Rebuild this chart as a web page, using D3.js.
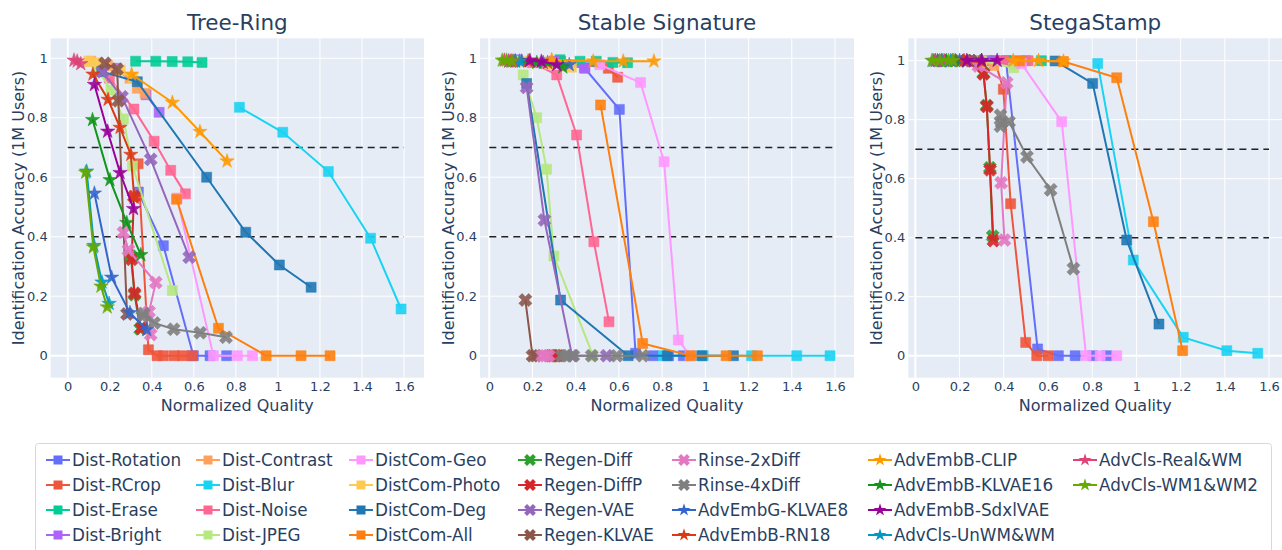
<!DOCTYPE html>
<html><head><meta charset="utf-8">
<script src="https://cdn.jsdelivr.net/npm/d3@7"></script>
<style>body{margin:0;background:#fff}svg{display:block}text{font-family:"DejaVu Sans",Verdana,sans-serif;fill:#2a3f5f}</style>
</head><body><svg id="c" width="1282" height="550"></svg>
<script>
// ---------- DATA ----------
const seriesNames = ["Dist-Rotation","Dist-RCrop","Dist-Erase","Dist-Bright","Dist-Contrast","Dist-Blur","Dist-Noise","Dist-JPEG",
  "DistCom-Geo","DistCom-Photo","DistCom-Deg","DistCom-All","Regen-Diff","Regen-DiffP","Regen-VAE","Regen-KLVAE",
  "Rinse-2xDiff","Rinse-4xDiff","AdvEmbG-KLVAE8","AdvEmbB-RN18","AdvEmbB-CLIP","AdvEmbB-KLVAE16","AdvEmbB-SdxlVAE",
  "AdvCls-UnWM&WM","AdvCls-Real&WM","AdvCls-WM1&WM2"];
const panelTitles = ["Tree-Ring","Stable Signature","StegaStamp"];
const xTicks = [0,0.2,0.4,0.6,0.8,1,1.2,1.4,1.6];
const yTicks = [0,0.2,0.4,0.6,0.8,1];
const thresholds = [0.7,0.4];

// points per series, same order as seriesNames: [normalized quality, identification accuracy]
const treeRing = [
 [[0.336,0.55],[0.455,0.37],[0.598,0],[0.677,0],[0.756,0]],
 [[0.335,0.645],[0.384,0.02],[0.425,0],[0.455,0],[0.506,0],[0.547,0],[0.592,0]],
 [[0.323,0.99],[0.419,0.99],[0.497,0.989],[0.571,0.988],[0.639,0.986]],
 [[0.17,0.975],[0.233,0.966],[0.373,0.877],[0.435,0.818]],
 [[0.11,0.99],[0.19,0.975],[0.296,0.933],[0.331,0.899],[0.368,0.882]],
 [[0.817,0.835],[1.023,0.751],[1.24,0.619],[1.441,0.395],[1.586,0.157]],
 [[0.198,0.933],[0.315,0.829],[0.411,0.721],[0.49,0.623],[0.56,0.544]],
 [[0.14,0.965],[0.206,0.893],[0.265,0.796],[0.308,0.638],[0.498,0.219]],
 [[0.52,0.53],[0.693,0],[0.807,0],[0.879,0]],
 [[0.1,0.99],[0.145,0.985],[0.25,0.96],[0.31,0.935]],
 [[0.162,0.955],[0.331,0.921],[0.661,0.6],[0.847,0.415],[1.007,0.305],[1.158,0.23]],
 [[0.518,0.526],[0.717,0.092],[0.944,0],[1.11,0],[1.248,0]],
 [[0.30,0.335],[0.318,0.205],[0.345,0.09]],
 [[0.315,0.535],[0.304,0.324],[0.318,0.21],[0.35,0.092]],
 [[0.165,0.955],[0.258,0.87],[0.395,0.66],[0.578,0.331]],
 [[0.177,0.983],[0.235,0.963],[0.241,0.857],[0.282,0.14]],
 [[0.265,0.414],[0.289,0.355],[0.419,0.246],[0.387,0.148],[0.395,0.071]],
 [[0.355,0.132],[0.362,0.142],[0.411,0.11],[0.504,0.089],[0.63,0.077],[0.753,0.062]],
 [[0.127,0.546],[0.209,0.263],[0.296,0.144],[0.376,0.087]],
 [[0.12,0.946],[0.192,0.861],[0.249,0.767],[0.30,0.676],[0.316,0.532]],
 [[0.304,0.946],[0.498,0.851],[0.629,0.753],[0.758,0.654]],
 [[0.118,0.793],[0.201,0.591],[0.281,0.447],[0.348,0.339]],
 [[0.127,0.911],[0.19,0.754],[0.249,0.615],[0.313,0.494]],
 [[0.09,0.62],[0.125,0.37],[0.163,0.247],[0.197,0.175]],
 [[0.03,0.993],[0.045,0.99],[0.062,0.981]],
 [[0.085,0.616],[0.122,0.365],[0.158,0.233],[0.188,0.163]]
];
const stableSignature = [
 [[0.3,0.985],[0.44,0.968],[0.602,0.828],[0.677,0.008],[0.759,0],[0.83,0],[0.898,0]],
 [[0.12,0.99],[0.33,0.99],[0.551,0.966],[0.594,0.936]],
 [[0.327,0.995],[0.42,0.99],[0.495,0.99],[0.572,0.986],[0.64,0.985]],
 [[0.13,0.995],[0.30,0.99],[0.443,0.966]],
 [[0.12,0.99],[0.25,0.985],[0.35,0.975]],
 [[0.805,0],[0.99,0],[1.214,0],[1.423,0],[1.577,0]],
 [[0.2,0.985],[0.312,0.944],[0.404,0.742],[0.484,0.383],[0.554,0.114]],
 [[0.157,0.944],[0.219,0.8],[0.265,0.627],[0.299,0.335],[0.48,0]],
 [[0.512,0.978],[0.70,0.918],[0.809,0.652],[0.875,0.053],[0.929,0]],
 [[0.15,0.99],[0.28,0.98],[0.38,0.97]],
 [[0.173,0.915],[0.33,0.187],[0.643,0],[0.824,0],[0.983,0],[1.13,0]],
 [[0.515,0.843],[0.71,0.041],[0.933,0],[1.096,0],[1.241,0]],
 [[0.285,0],[0.32,0]],
 [[0.295,0],[0.31,0]],
 [[0.173,0.902],[0.255,0.456],[0.383,0],[0.543,0]],
 [[0.167,0.187],[0.2,0],[0.215,0]],
 [[0.245,0],[0.26,0],[0.275,0]],
 [[0.335,0],[0.358,0],[0.389,0],[0.474,0],[0.59,0],[0.71,0]],
 [[0.15,0.99],[0.25,0.985],[0.37,0.978]],
 [[0.1,0.99],[0.18,0.99],[0.27,0.985]],
 [[0.289,0.995],[0.481,0.99],[0.62,0.99],[0.762,0.99]],
 [[0.12,0.99],[0.22,0.985],[0.34,0.97]],
 [[0.188,0.992],[0.241,0.989],[0.312,0.978]],
 [[0.09,0.99],[0.12,0.99],[0.14,0.99]],
 [[0.07,0.993],[0.09,0.99],[0.11,0.99]],
 [[0.06,0.993],[0.08,0.993],[0.104,0.99]]
];
const stegaStamp = [
 [[0.3,1],[0.41,1],[0.553,0.023],[0.647,0],[0.723,0],[0.802,0],[0.866,0]],
 [[0.25,1],[0.36,1],[0.398,0.903],[0.431,0.515],[0.499,0.045],[0.549,0],[0.60,0]],
 [[0.2,1],[0.33,1],[0.42,1],[0.5,1],[0.57,1]],
 [[0.25,1],[0.35,1],[0.45,0.99]],
 [[0.15,1],[0.28,1],[0.355,0.984]],
 [[0.825,0.99],[0.986,0.324],[1.212,0.062],[1.409,0.017],[1.549,0.008]],
 [[0.3,1],[0.4,1],[0.46,1],[0.51,1]],
 [[0.12,1],[0.3,1],[0.445,0.976]],
 [[0.48,0.99],[0.662,0.793],[0.772,0],[0.836,0],[0.911,0]],
 [[0.1,1],[0.2,1],[0.3,0.995]],
 [[0.632,0.999],[0.802,0.923],[0.956,0.392],[1.102,0.107]],
 [[0.471,0.999],[0.67,0.997],[0.911,0.942],[1.077,0.454],[1.209,0.017]],
 [[0.23,1],[0.308,0.958],[0.323,0.848],[0.337,0.637],[0.35,0.405]],
 [[0.23,1],[0.308,0.955],[0.323,0.845],[0.338,0.63],[0.353,0.39]],
 [[0.1,1],[0.15,1],[0.25,1]],
 [[0.12,1],[0.2,1],[0.28,1]],
 [[0.285,0.982],[0.413,0.925],[0.388,0.586],[0.403,0.392]],
 [[0.385,0.815],[0.39,0.79],[0.385,0.778],[0.424,0.793],[0.505,0.674],[0.612,0.562],[0.715,0.295]],
 [[0.1,1],[0.2,1],[0.3,1]],
 [[0.12,1],[0.22,1],[0.3,0.995]],
 [[0.443,1],[0.557,1],[0.67,0.998]],
 [[0.09,1],[0.14,1],[0.18,1]],
 [[0.233,1],[0.30,1],[0.37,1]],
 [[0.08,1],[0.12,1],[0.16,1]],
 [[0.09,1],[0.13,1],[0.17,1]],
 [[0.075,1],[0.11,1],[0.15,1],[0.17,1]]
];
const panelData = [treeRing, stableSignature, stegaStamp];

// ---------- STYLE ----------
const seriesColors = ["#636EFA","#EF553B","#00CC96","#AB63FA","#FFA15A","#19D3F3","#FF6692","#B6E880",
 "#FF97FF","#FECB52","#1F77B4","#FF7F0E","#2CA02C","#D62728","#9467BD","#8C564B","#E377C2","#7F7F7F",
 "#3366CC","#DC3912","#FF9900","#109618","#990099","#0099C6","#DD4477","#66AA00"];
const seriesSymbols = seriesNames.map(n => n.startsWith("Dist") ? "square" : (n.startsWith("Regen")||n.startsWith("Rinse")) ? "x" : "star");

function symbolPath(type, r){
  if(type==="square") return `M${r},${r}H${-r}V${-r}H${r}Z`;
  if(type==="x"){ const a=+(r*0.8/Math.SQRT2).toFixed(2);
    const ne=`l${a},${a}`, se=`l${a},${-a}`, sw=`l${-a},${-a}`, nw=`l${-a},${a}`;
    return `M0,${a}`+ne+se+sw+se+sw+nw+sw+nw+ne+nw+ne+"Z"; }
  const rs=r*1.4, x1=rs*0.225,x2=rs*0.951,x3=rs*0.363,x4=rs*0.588,y0=-rs,y1=rs*-0.309,y3=rs*0.118,y4=rs*0.809,y5=rs*0.382;
  return `M${x1},${y1}H${x2}L${x3},${y3}L${x4},${y4}L0,${y5}L${-x4},${y4}L${-x3},${y3}L${-x2},${y1}H${-x1}L0,${y0}Z`;
}
const symR = {square:5, x:5.8, star:5.4};

const panels = [
  {x0:50.7, x1:424, xd:[-0.081,1.695], yd:[-0.074,1.067], ylab:18},
  {x0:480, x1:854, xd:[-0.043,1.688], yd:[-0.074,1.067], ylab:448},
  {x0:908.3, x1:1282.3, xd:[-0.032,1.660], yd:[-0.0747,1.0758], ylab:876}
];
const plotTop=38.3, plotBottom=377.7;
const svg = d3.select("#c");

panels.forEach((p,pi)=>{
  const x = d3.scaleLinear().domain(p.xd).range([p.x0,p.x1]);
  const y = d3.scaleLinear().domain(p.yd).range([plotBottom,plotTop]);
  const g = svg.append("g");
  g.append("rect").attr("x",p.x0).attr("y",plotTop).attr("width",p.x1-p.x0).attr("height",plotBottom-plotTop).attr("fill","#E5ECF6");
  const clipId="clip"+pi;
  svg.append("clipPath").attr("id",clipId).append("rect").attr("x",p.x0).attr("y",plotTop).attr("width",p.x1-p.x0).attr("height",plotBottom-plotTop);
  g.selectAll(".gx").data(xTicks).enter().append("line").attr("x1",d=>x(d)).attr("x2",d=>x(d)).attr("y1",plotTop).attr("y2",plotBottom)
    .attr("stroke","#fff").attr("stroke-width",d=>d===0?2:1);
  g.selectAll(".gy").data(yTicks).enter().append("line").attr("y1",d=>y(d)).attr("y2",d=>y(d)).attr("x1",p.x0).attr("x2",p.x1)
    .attr("stroke","#fff").attr("stroke-width",d=>d===0?2:1);
  const fmt = d3.format("~g");
  const ax = g.append("g").attr("transform",`translate(0,${plotBottom})`).call(d3.axisBottom(x).tickValues(xTicks).tickFormat(fmt).tickSize(0).tickPadding(4));
  const ay = g.append("g").attr("transform",`translate(${p.x0},0)`).call(d3.axisLeft(y).tickValues(yTicks).tickFormat(fmt).tickSize(0).tickPadding(3));
  [ax,ay].forEach(a=>{a.select(".domain").remove(); a.selectAll("text").attr("font-size",13).style("fill","#2a3f5f").attr("font-family","DejaVu Sans");});
  g.selectAll(".th").data(thresholds).enter().append("line").attr("x1",x(0)).attr("x2",x(1.6)).attr("y1",d=>y(d)).attr("y2",d=>y(d))
    .attr("stroke","#222").attr("stroke-width",1.5).attr("stroke-dasharray","7,5");
  const data = panelData[pi];
  const line = d3.line().x(d=>x(d[0])).y(d=>y(d[1]));
  const sg = g.append("g").attr("clip-path",`url(#${clipId})`);
  data.forEach((pts,si)=>{
    const col=seriesColors[si];
    sg.append("path").attr("d",line(pts)).attr("fill","none").attr("stroke",col).attr("stroke-width",2);
    sg.selectAll(null).data(pts).enter().append("path")
      .attr("d",symbolPath(seriesSymbols[si],symR[seriesSymbols[si]]))
      .attr("transform",d=>`translate(${x(d[0])},${y(d[1])})`)
      .attr("fill",col).attr("stroke",col).attr("stroke-opacity",0.5).attr("stroke-width",1).attr("fill-opacity",0.9);
  });
  svg.append("text").attr("x",(p.x0+p.x1)/2).attr("y",30).attr("text-anchor","middle").attr("font-size",21.5).text(panelTitles[pi]);
  svg.append("text").attr("x",(p.x0+p.x1)/2).attr("y",411).attr("text-anchor","middle").attr("font-size",16).text("Normalized Quality");
  svg.append("text").attr("transform",`translate(${p.ylab},${(plotTop+plotBottom)/2}) rotate(-90)`).attr("dy","0.35em").attr("text-anchor","middle").attr("font-size",16).text("Identification Accuracy (1M Users)");
});

// ---------- LEGEND ----------
svg.append("rect").attr("x",35.5).attr("y",443.5).attr("width",1236).attr("height",130).attr("rx",3)
  .attr("fill","#fff").attr("stroke","#d8d8d8").attr("stroke-width",1);
const colX = [58,208,361,530,684,880,1085];
const rowY = [460,485,510,535];
seriesNames.forEach((n,i)=>{
  const cx = colX[Math.floor(i/4)], cy=rowY[i%4];
  const lg = svg.append("g").attr("transform",`translate(${cx},${cy})`);
  lg.append("line").attr("x1",-12).attr("x2",12).attr("stroke",seriesColors[i]).attr("stroke-width",2);
  lg.append("path").attr("d",symbolPath(seriesSymbols[i],symR[seriesSymbols[i]]*0.9)).attr("fill",seriesColors[i]);
  lg.append("text").attr("x",14).attr("dy","0.35em").attr("font-size",16.8).text(n);
});
</script></body></html>
